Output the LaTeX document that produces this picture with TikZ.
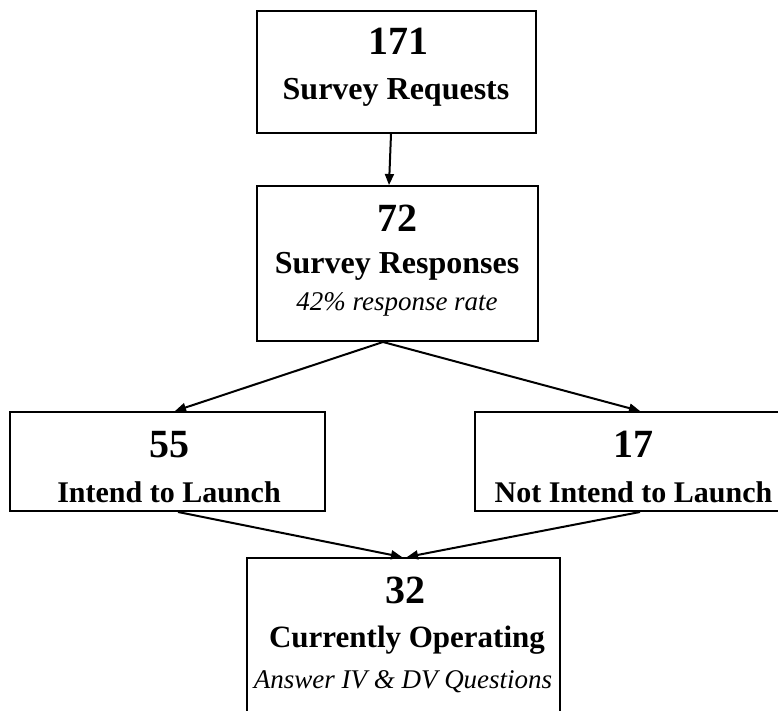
\documentclass[tikz,border=0pt]{standalone}
\usepackage{fontspec}
\setmainfont{Liberation Serif}
\usetikzlibrary{arrows.meta}
\begin{document}
\begin{tikzpicture}[x=1pt,y=-1pt,
  box/.style={draw=black,line width=2pt,rectangle,inner sep=0pt,fill=white},
  big/.style={anchor=base,inner sep=0pt,font=\fontsize{40}{44}\selectfont\bfseries},
  lbl/.style={anchor=base,inner sep=0pt,font=\fontsize{31}{36}\selectfont\bfseries},
  sub/.style={anchor=base,inner sep=0pt,font=\fontsize{27}{32}\selectfont\itshape},
  arr/.style={line width=2pt,-{Triangle[length=11pt,width=9pt]}}]
\useasboundingbox (0,0) rectangle (778,711);
% boxes
\node[box,minimum width=279pt,minimum height=122pt] (b1) at (396.5,72) {};
\node[box,minimum width=281pt,minimum height=155pt] (b2) at (397.5,263.5) {};
\node[box,minimum width=315pt,minimum height=99pt] (b3) at (167.5,461.5) {};
\node[box,minimum width=315pt,minimum height=99pt] (b4) at (632.5,461.5) {};
\node[box,minimum width=313pt,minimum height=164pt] (b5) at (403.5,640) {};
% texts
\node[big] (t1a) at (398,55) {171};
\node[lbl,font=\fontsize{32}{36}\selectfont\bfseries] (t1b) at (396,100) {Survey Requests};
\node[big] (t2a) at (397,232) {72};
\node[lbl,font=\fontsize{32}{36}\selectfont\bfseries] (t2b) at (397,273) {Survey Responses};
\node[sub] (t2c) at (397,310) {42\% response rate};
\node[big] (t3a) at (169,457) {55};
\node[lbl,font=\fontsize{30}{36}\selectfont\bfseries] (t3b) at (169,502) {Intend to Launch};
\node[big] (t4a) at (633,457) {17};
\node[lbl,font=\fontsize{30}{36}\selectfont\bfseries] (t4b) at (633.5,502) {Not Intend to Launch};
\node[big] (t5a) at (405,603) {32};
\node[lbl] (t5b) at (407,647) {Currently Operating};
\node[sub] (t5c) at (403,688) {Answer IV \& DV Questions};
% connectors
\draw[arr] ([xshift=-5.5pt]b1.south) -- ([xshift=-8.5pt]b2.north);
\draw[arr] ([xshift=-14.5pt]b2.south) -- ([xshift=7.5pt]b3.north);
\draw[arr] ([xshift=-14.5pt]b2.south) -- ([xshift=7.5pt]b4.north);
\draw[arr] ([xshift=10.5pt]b3.south) -- ([xshift=-1.5pt]b5.north);
\draw[arr] ([xshift=7.5pt]b4.south) -- ([xshift=3.5pt]b5.north);
\end{tikzpicture}
\end{document}
